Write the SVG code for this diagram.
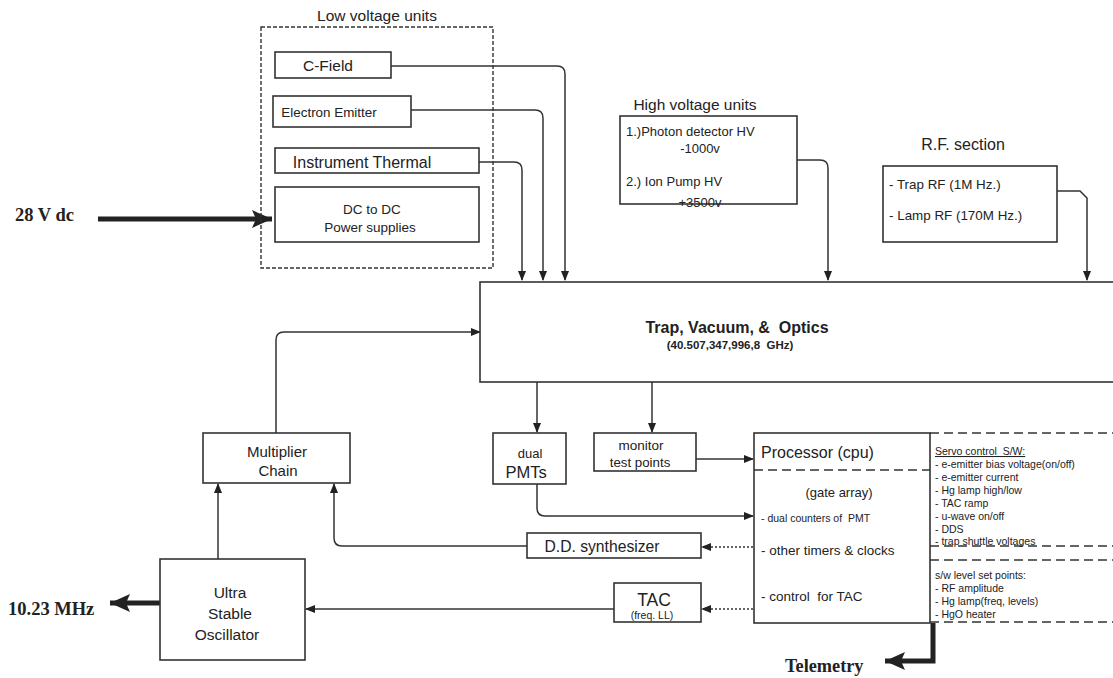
<svg xmlns="http://www.w3.org/2000/svg" width="1113" height="678" viewBox="0 0 1113 678">
<defs>
<style>
.box{fill:#fff;stroke:#333;stroke-width:1.6}
.ln{fill:none;stroke:#333;stroke-width:1.5}
.dl{fill:none;stroke:#333;stroke-width:1.5;stroke-dasharray:2 2}
.dash{fill:none;stroke:#333;stroke-width:1.6;stroke-dasharray:9 5}
.thick{fill:none;stroke:#222;stroke-width:5}
.t{font-family:"Liberation Sans",Arial,sans-serif;fill:#222;white-space:pre}
.s{font-family:"Liberation Serif","Times New Roman",serif;font-weight:bold;fill:#222}
</style>
<marker id="ar" markerWidth="10" markerHeight="10" refX="9" refY="5" orient="auto" markerUnits="userSpaceOnUse">
<path d="M0,1 L10,5 L0,9 Z" fill="#222"/>
</marker>
<marker id="big" markerWidth="21" markerHeight="20" refX="20" refY="10" orient="auto" markerUnits="userSpaceOnUse">
<path d="M0,1 L20,10 L0,19 L4,10 Z" fill="#222"/>
</marker>
</defs>
<rect width="1113" height="678" fill="#fff"/>

<g id="connectors">
<path class="ln" d="M391,66 H557 Q565,66 565,74 V280" marker-end="url(#ar)"/>
<path class="ln" d="M411,110 H535 Q543,110 543,118 V280" marker-end="url(#ar)"/>
<path class="ln" d="M479,162 H514 Q522,162 522,170 V280" marker-end="url(#ar)"/>
<path class="ln" d="M797,160 H820 Q828,160 828,168 V280" marker-end="url(#ar)"/>
<path class="ln" d="M1057,191 H1080 L1087,198 V280" marker-end="url(#ar)"/>
<path class="thick" d="M98,219 H272" marker-end="url(#big)"/>
<path class="ln" d="M276,433 V340 Q276,332 284,332 H480" marker-end="url(#ar)"/>
<path class="ln" d="M218,559 V484" marker-end="url(#ar)"/>
<path class="ln" d="M527,546 H342 Q334,546 334,538 V484" marker-end="url(#ar)"/>
<path class="thick" d="M160,603 H110" marker-end="url(#big)"/>
<path class="ln" d="M614,609 H306" marker-end="url(#ar)"/>
<path class="dl" d="M753,547 H702" marker-end="url(#ar)"/>
<path class="dl" d="M753,609 H702" marker-end="url(#ar)"/>
<path class="ln" d="M537,382 V432" marker-end="url(#ar)"/>
<path class="ln" d="M652,382 V432" marker-end="url(#ar)"/>
<path class="ln" d="M696,459 H753" marker-end="url(#ar)"/>
<path class="ln" d="M537,484 V508 Q537,516 545,516 H753" marker-end="url(#ar)"/>
<path class="thick" d="M933,623 V661 H885" marker-end="url(#big)"/>
</g>

<g id="low-voltage-units">
<rect x="261" y="27" width="232" height="241" fill="none" stroke="#333" stroke-width="1.4" stroke-dasharray="4 2"/>
<text class="t" x="377" y="21" font-size="15.5" text-anchor="middle">Low voltage units</text>
</g>
<g id="c-field">
<rect class="box" x="275" y="52" width="116" height="26"/>
<text class="t" x="328" y="71" font-size="15.5" text-anchor="middle">C-Field</text>
</g>
<g id="electron-emitter">
<rect class="box" x="273" y="96" width="138" height="31"/>
<text class="t" x="329" y="117" font-size="13.4" text-anchor="middle">Electron Emitter</text>
</g>
<g id="instrument-thermal">
<rect class="box" x="275" y="148" width="204" height="25"/>
<text class="t" x="362" y="168" font-size="16" text-anchor="middle">Instrument Thermal</text>
</g>
<g id="dc-to-dc">
<rect class="box" x="275" y="187" width="204" height="55"/>
<text class="t" x="372" y="214" font-size="13.5" text-anchor="middle">DC to DC</text>
<text class="t" x="370" y="232" font-size="13.5" text-anchor="middle">Power supplies</text>
</g>
<g id="input-28v">
<text class="s" x="15" y="221" font-size="18.5">28 V dc</text>
</g>

<g id="high-voltage-units">
<text class="t" x="695" y="110" font-size="15.5" text-anchor="middle">High voltage units</text>
<rect class="box" x="620" y="116" width="177" height="88"/>
<text class="t" x="626" y="136" font-size="13">1.)Photon detector HV</text>
<text class="t" x="700" y="153" font-size="13" text-anchor="middle">-1000v</text>
<text class="t" x="626" y="186" font-size="13">2.) Ion Pump HV</text>
<text class="t" x="700" y="207" font-size="13" text-anchor="middle">+3500v</text>
</g>

<g id="rf-section">
<text class="t" x="963" y="150" font-size="16" text-anchor="middle">R.F. section</text>
<rect class="box" x="883" y="166" width="174" height="76"/>
<text class="t" x="889" y="189" font-size="13.4">- Trap RF (1M Hz.)</text>
<text class="t" x="889" y="220" font-size="13.4">- Lamp RF (170M Hz.)</text>
</g>

<g id="trap">
<rect class="box" x="480" y="282" width="640" height="100"/>
<text class="t" x="737" y="333" font-size="16" font-weight="bold" text-anchor="middle">Trap, Vacuum, &amp;  Optics</text>
<text class="t" x="730" y="349" font-size="11.5" font-weight="bold" text-anchor="middle">(40.507,347,996,8  GHz)</text>
</g>

<g id="multiplier-chain">
<rect class="box" x="203" y="433" width="147" height="50"/>
<text class="t" x="277" y="457" font-size="15" text-anchor="middle">Multiplier</text>
<text class="t" x="278" y="476" font-size="15" text-anchor="middle">Chain</text>
</g>

<g id="uso">
<rect class="box" x="160" y="559" width="145" height="101"/>
<text class="t" x="230" y="598" font-size="15.5" text-anchor="middle">Ultra</text>
<text class="t" x="230" y="619" font-size="15.5" text-anchor="middle">Stable</text>
<text class="t" x="227" y="640" font-size="15.5" text-anchor="middle">Oscillator</text>
</g>
<g id="output-1023">
<text class="s" x="8" y="615" font-size="18.5">10.23 MHz</text>
</g>

<g id="dual-pmts">
<rect class="box" x="493" y="433" width="73" height="51"/>
<text class="t" x="530" y="458" font-size="13" text-anchor="middle">dual</text>
<text class="t" x="526" y="478" font-size="16.5" text-anchor="middle">PMTs</text>
</g>

<g id="monitor-test-points">
<rect class="box" x="594" y="433" width="102" height="38"/>
<text class="t" x="641" y="450" font-size="13.5" text-anchor="middle">monitor</text>
<text class="t" x="640" y="467" font-size="13.3" text-anchor="middle">test points</text>
</g>

<g id="dd-synthesizer">
<rect class="box" x="527" y="533" width="174" height="25"/>
<text class="t" x="602" y="552" font-size="15.7" text-anchor="middle">D.D. synthesizer</text>
</g>

<g id="tac">
<rect class="box" x="614" y="583" width="87" height="39"/>
<text class="t" x="654" y="606" font-size="17.5" text-anchor="middle">TAC</text>
<text class="t" x="652" y="619" font-size="10.5" text-anchor="middle">(freq. LL)</text>
</g>

<g id="processor">
<rect class="box" x="754" y="433" width="176" height="190"/>
<line class="dash" x1="754" y1="470" x2="930" y2="470"/>
<text class="t" x="761" y="458" font-size="16">Processor (cpu)</text>
<text class="t" x="839" y="497" font-size="13" text-anchor="middle">(gate array)</text>
<text class="t" x="761" y="522" font-size="10.5">- dual counters of  PMT</text>
<text class="t" x="761" y="555" font-size="13.5">- other timers &amp; clocks</text>
<text class="t" x="761" y="601" font-size="13.5">- control  for TAC</text>
</g>

<g id="servo-control">
<line class="dash" x1="930" y1="433" x2="1113" y2="433"/>
<line class="dash" x1="930" y1="546" x2="1113" y2="546"/>
<text class="t" x="935" y="455" font-size="10.5" text-decoration="underline">Servo control  S/W:</text>
<text class="t" x="935" y="468" font-size="10.5">- e-emitter bias voltage(on/off)</text>
<text class="t" x="935" y="481" font-size="10.5">- e-emitter current</text>
<text class="t" x="935" y="494" font-size="10.5">- Hg lamp high/low</text>
<text class="t" x="935" y="507" font-size="10.5">- TAC ramp</text>
<text class="t" x="935" y="520" font-size="10.5">- u-wave on/off</text>
<text class="t" x="935" y="533" font-size="10.5">- DDS</text>
<text class="t" x="935" y="545" font-size="10.5">- trap shuttle voltages</text>
</g>

<g id="level-set-points">
<line class="dash" x1="930" y1="560" x2="1113" y2="560"/>
<line class="dash" x1="930" y1="622" x2="1113" y2="622"/>
<text class="t" x="935" y="579" font-size="10.5">s/w level set points:</text>
<text class="t" x="935" y="592" font-size="10.5">- RF amplitude</text>
<text class="t" x="935" y="605" font-size="10.5">- Hg lamp(freq, levels)</text>
<text class="t" x="935" y="618" font-size="10.5">- HgO heater</text>
</g>

<g id="telemetry">
<text class="s" x="785" y="672" font-size="18.3">Telemetry</text>
</g>
</svg>
